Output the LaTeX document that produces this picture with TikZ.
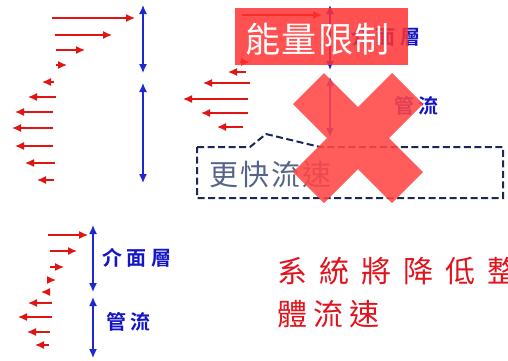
\documentclass[tikz,border=0pt]{standalone}
\usepackage{fontspec}
\newfontfamily\cjk{Noto Sans CJK TC}
\newfontfamily\cjkb{Noto Sans CJK TC Bold}
\usetikzlibrary{arrows.meta}
\definecolor{arred}{RGB}{225,20,20}
\definecolor{arblue}{RGB}{30,40,210}
\definecolor{lblblue}{RGB}{20,20,200}
\definecolor{boxred}{RGB}{255,50,50}
\definecolor{xred}{RGB}{255,70,70}
\definecolor{navy}{RGB}{25,40,85}
\definecolor{slate}{RGB}{85,100,135}
\definecolor{txtred}{RGB}{225,20,30}
\tikzset{
  redarr/.style={draw=arred, line width=1.3pt, -{Latex[length=9pt,width=8pt]}},
  bluearr/.style={draw=arblue, line width=1.3pt, {Latex[length=9pt,width=8pt]}-{Latex[length=9pt,width=8pt]}},
  bluelbl/.style={text=lblblue, font=\cjkb\fontsize{20}{20}\selectfont, inner sep=0pt, anchor=west},
  calloutline/.style={draw=navy, line width=2pt, dash pattern=on 7pt off 3.5pt},
}
\begin{document}
\begin{tikzpicture}[x=1pt,y=-1pt]
\useasboundingbox (0,0) rectangle (508,360);
% ---- top-left profile
\foreach \y/\a/\b in {18/52/135, 35/55/112, 50/56/85, 65/56/67, 82/54/42, 97/56/28, 112/53/15, 128/53/12, 146/53/15, 163/55/25, 180/54/37}
  \draw[redarr] (\a,\y) -- (\b,\y);
\draw[bluearr] (143,5) -- (143,73);
\draw[bluearr] (143,83) -- (143,183);
% ---- top-middle profile
\foreach \y/\a/\b in {15/242/322, 62/240/250, 72/246/228, 83/250/203, 99/248/183, 113/248/201, 127/243/217}
  \draw[redarr] (\a,\y) -- (\b,\y);
\draw[bluearr] (330,5) -- (330,70);
\draw[bluearr] (330,77) -- (330,137);
\node[bluelbl] (ifaceT) at (351,37) {介\hspace{4.5pt}面\hspace{4.5pt}層};
\node[bluelbl] (pipeT) at (394,106) {管\hspace{4.5pt}流};
% ---- callout
\draw[calloutline] (197,147) -- (250,147) -- (266,134) -- (320,147) -- (503,147) -- (503,198) -- (197,198) -- cycle;
\node[text=slate, font=\cjk\fontsize{29}{29}\selectfont, inner sep=0pt, anchor=west] (faster) at (209,175) {更\hspace{2pt}快\hspace{2pt}流\hspace{2pt}速};
% ---- red box
\fill[boxred, fill opacity=0.85] (235,8) rectangle (408,65);
\node[text=white, font=\cjk\fontsize{35}{35}\selectfont, inner sep=0pt, anchor=west] (limit) at (245,39) {能\hspace{1.5pt}量\hspace{1.5pt}限\hspace{1.5pt}制};
% ---- big X
\fill[xred, fill opacity=0.88]
  (293,104) -- (324,73) -- (358,107) -- (392,73) -- (423,104) -- (389,138)
  -- (423,172) -- (392,203) -- (358,169) -- (324,203) -- (293,172) -- (327,138) -- cycle;
% ---- bottom-left profile
\foreach \y/\a/\b in {235/48/88, 251/50/77, 267/50/64, 280/47/56, 292/50/41, 303/52/28, 317/52/18, 332/50/27, 345/49/35}
  \draw[redarr] (\a,\y) -- (\b,\y);
\draw[bluearr] (93,225) -- (93,292);
\draw[bluearr] (93,297) -- (93,358);
\node[bluelbl] (ifaceB) at (102,258) {介\hspace{4.5pt}面\hspace{4.5pt}層};
\node[bluelbl] (pipeB) at (106,322) {管\hspace{4.5pt}流};
% ---- red statement
\node[text=txtred, font=\cjk\fontsize{30}{30}\selectfont, inner sep=0pt, anchor=west] (stmt1) at (277,271) {系\hspace{12pt}統\hspace{12pt}將\hspace{12pt}降\hspace{12pt}低\hspace{12pt}整};
\node[text=txtred, font=\cjk\fontsize{30}{30}\selectfont, inner sep=0pt, anchor=west] (stmt2) at (277,314) {體\hspace{6pt}流\hspace{6pt}速};
\end{tikzpicture}
\end{document}
